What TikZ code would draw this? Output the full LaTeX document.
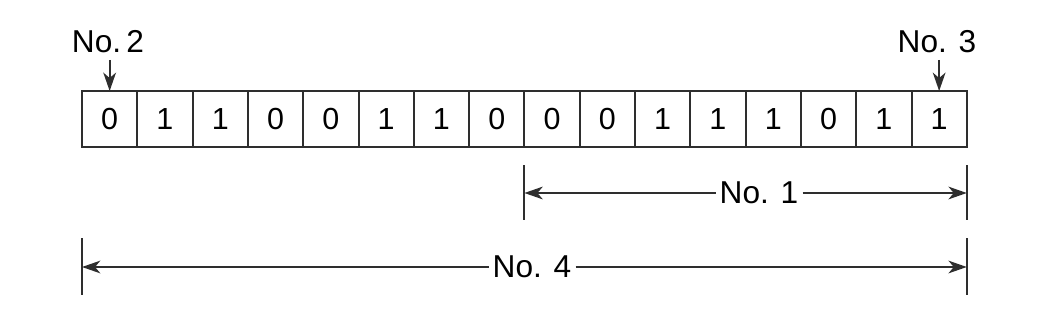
\documentclass[tikz,border=0pt]{standalone}
\usepackage{fontspec}
\setmainfont{Liberation Sans}
\usetikzlibrary{arrows.meta}
\definecolor{inkgray}{HTML}{2E2E2E}
\tikzset{
  bitcell/.style={draw=inkgray, line width=1.7pt, minimum width=1.659cm,
    minimum height=1.68cm, inner sep=0pt, outer sep=0pt,
    font=\fontsize{26}{30}\selectfont},
  label/.style={inner sep=0.12cm, font=\fontsize{27}{31}\selectfont},
  pointer/.style={draw=inkgray, line width=1.7pt,
    -{Stealth[length=5.5mm, width=3.8mm, inset=1.6mm]}},
  dimarrow/.style={draw=inkgray, line width=1.7pt,
    -{Stealth[length=5.5mm, width=3.8mm, inset=1.6mm]}},
  bar/.style={draw=inkgray, line width=1.7pt}
}
\begin{document}
\begin{tikzpicture}[x=0.03cm, y=-0.03cm]
  \useasboundingbox (0,0) rectangle (1042,313);

  % Bit row
  \foreach \b [count=\i from 0] in {0,1,1,0,0,1,1,0,0,0,1,1,1,0,1,1} {
    \node[bitcell] (c\i) at ({109.65+55.3*\i},119) {\b};
  }

  % Pointers to first and last bit
  \node[label] (n2) at (108,42) {No.\,2};
  \node[label] (n3) at (937,42) {No. 3};
  \coordinate (p2) at (c0.north |- 0,60);
  \coordinate (p3) at (c15.north |- 0,60);
  \draw[pointer] (p2) -- (c0.north);
  \draw[pointer] (p3) -- (c15.north);

  % Span of No. 1
  \draw[bar] (c8.south west |- 0,165) -- (c8.south west |- 0,220);
  \draw[bar] (c15.south east |- 0,165) -- (c15.south east |- 0,220);
  \coordinate (l1) at (c8.south west |- 0,193);
  \coordinate (r1) at (c15.south east |- 0,193);
  \node[label] (n1) at (759,193) {No. 1};
  \draw[dimarrow] (n1.west) -- (l1);
  \draw[dimarrow] (n1.east) -- (r1);

  % Span of No. 4
  \draw[bar] (c0.south west |- 0,238) -- (c0.south west |- 0,295);
  \draw[bar] (c15.south east |- 0,238) -- (c15.south east |- 0,295);
  \coordinate (l4) at (c0.south west |- 0,267);
  \coordinate (r4) at (c15.south east |- 0,267);
  \node[label] (n4) at (532,267) {No. 4};
  \draw[dimarrow] (n4.west) -- (l4);
  \draw[dimarrow] (n4.east) -- (r4);
\end{tikzpicture}
\end{document}
